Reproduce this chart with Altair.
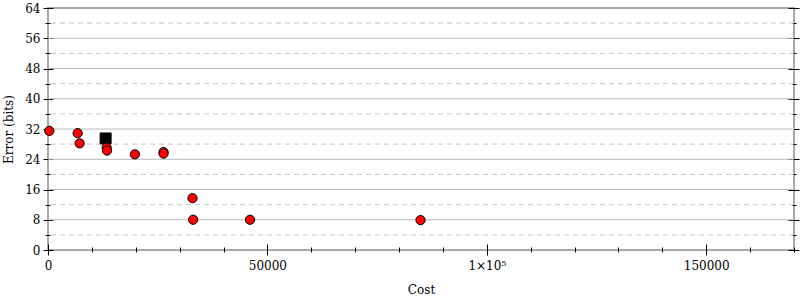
import altair as alt
import pandas as pd

# ---- data ----
cost = [300, 6760, 7210, 13360, 13450, 19800, 26330, 26330, 32930, 33070, 46040, 84890]
error_bits = [31.5, 30.9, 28.2, 27.1, 26.3, 25.3, 25.9, 25.5, 13.7, 8.0, 8.0, 7.9]
best_cost = [13130]
best_error = [29.5]

y_major_ticks = [0, 8, 16, 24, 32, 40, 48, 56, 64]
y_minor_ticks = [4, 12, 20, 28, 36, 44, 52, 60]
grid_solid = [8, 16, 24, 32, 40, 48, 56]
x_major_ticks = [0, 50000, 100000, 150000]
x_minor_ticks = [0, 10000, 20000, 30000, 40000, 50000, 60000, 70000, 80000,
                 90000, 100000, 110000, 120000, 130000, 140000, 150000, 160000, 170000]
x_domain = [0, 170000]
y_domain = [0, 64]

FONT = "DejaVu Serif"

xs = alt.Scale(domain=x_domain, nice=False, zero=False)
ys = alt.Scale(domain=y_domain, nice=False, zero=False)


def axis(orient, values, offset, size, labels=False, title=None, **kw):
    return alt.Axis(orient=orient, values=values, offset=offset, tickSize=size,
                    labels=labels, title=title, domain=False, grid=False,
                    labelFlush=False, labelOverlap=False,
                    tickColor="#000000", tickWidth=1, **kw)


pts_df = pd.DataFrame({"cost": cost, "error": error_bits})
best_df = pd.DataFrame({"cost": best_cost, "error": best_error})
minor_df = pd.DataFrame({"v": y_minor_ticks})
major_df = pd.DataFrame({"v": grid_solid})

dashed = alt.Chart(minor_df).mark_rule(color="#c4c4c4", strokeDash=[5, 4], strokeWidth=1).encode(
    y=alt.Y("v:Q", scale=ys, axis=axis("left", y_minor_ticks, -2, 5))
)

solid = alt.Chart(major_df).mark_rule().encode(
    y=alt.Y("v:Q", scale=ys,
            axis=axis("left", y_major_ticks, -5, 10, labels=True, title="Error (bits)",
                      labelPadding=3, titlePadding=9)),
    color=alt.condition("datum.v == 32", alt.value("#dedede"), alt.value("#b8b8b8")),
    strokeWidth=alt.condition("datum.v == 32", alt.value(2), alt.value(1)),
)

best = alt.Chart(best_df).mark_point(shape="square", fill="#000000", stroke="#000000",
                                     strokeWidth=1, size=120, opacity=1, fillOpacity=1).encode(
    x=alt.X("cost:Q", scale=xs,
            axis=axis("bottom", x_major_ticks, -6, 11, labels=True, title="Cost",
                      format="d", labelExpr="datum.value === 100000 ? '1×10⁵' : datum.label",
                      labelPadding=5, titlePadding=13)),
    y=alt.Y("error:Q", scale=ys, axis=axis("right", y_major_ticks, -6, 11)),
)

points = alt.Chart(pts_df).mark_point(shape="circle", fill="#ff0000", stroke="#000000",
                                      strokeWidth=1, size=85, opacity=1, fillOpacity=1).encode(
    x=alt.X("cost:Q", scale=xs, axis=axis("bottom", x_minor_ticks, -3, 5)),
    y=alt.Y("error:Q", scale=ys, axis=axis("right", y_minor_ticks, -2, 4)),
)

chart = alt.layer(dashed, solid, best, points).resolve_axis(
    x="independent", y="independent"
).properties(
    width=746, height=242,
    autosize=alt.AutoSizeParams(type="none"),
    padding={"left": 48, "top": 8, "right": 6, "bottom": 50},
    background="#ffffff",
).configure_view(
    stroke="#a8a8a8", strokeWidth=2
).configure_axis(
    labelFont=FONT, titleFont=FONT, labelFontSize=12, titleFontSize=12,
    labelColor="#000000", titleColor="#000000", titleFontWeight="normal",
)

chart.save("out.html", embed_options={"renderer": "svg", "actions": False})
